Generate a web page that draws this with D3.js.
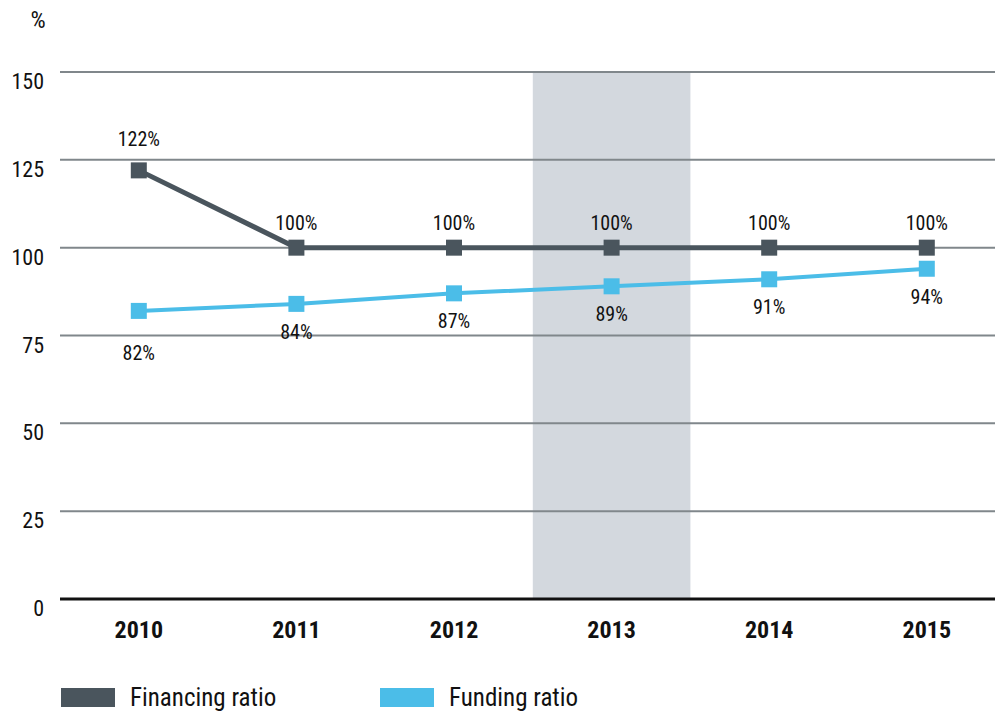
<!DOCTYPE html>
<html>
<head>
<meta charset="utf-8">
<script src="https://cdn.jsdelivr.net/npm/d3@7"></script>
<style>
  body { margin: 0; background: #fff; }
  svg text { font-family: "Liberation Sans Narrow", "Roboto Condensed", "Liberation Sans", Arial, sans-serif; fill: #111; }
</style>
</head>
<body>
<div id="canvas"></div>
<script>
// data
var years = ['2010', '2011', '2012', '2013', '2014', '2015'];
var financing = [122, 100, 100, 100, 100, 100];
var funding = [82, 84, 87, 89, 91, 94];
var yTicks = [0, 25, 50, 75, 100, 125, 150];
var highlightYear = '2013';
var seriesNames = ['Financing ratio', 'Funding ratio'];
var colors = ['#4a555d', '#4bbde8'];

var W = 995, H = 715;
var m = {t:72, r:0, b:116, l:60};

var svg = d3.select('#canvas')
    .append('svg')
    .attr('width', W)
    .attr('height', H);

var scaleX = d3.scaleBand()
    .domain(years)
    .range([m.l, m.l + 6 * 157.6]);

var scaleY = d3.scaleLinear()
    .domain([0, 150])
    .range([H - m.b, m.t]);

// highlighted column
svg.append('rect')
    .attr('x', scaleX(highlightYear))
    .attr('y', scaleY(150))
    .attr('width', scaleX.bandwidth())
    .attr('height', scaleY(0) - scaleY(150))
    .attr('fill', '#d3d8de');

// gridlines
svg.selectAll('.grid')
    .data(yTicks.filter(function(d){ return d > 0; }))
    .enter().append('line')
    .attr('x1', m.l).attr('x2', W)
    .attr('y1', function(d){ return scaleY(d); })
    .attr('y2', function(d){ return scaleY(d); })
    .attr('stroke', '#80878b')
    .attr('stroke-width', 2);

// y labels
svg.selectAll('.ylab')
    .data(yTicks)
    .enter().append('text')
    .attr('x', 44)
    .attr('y', function(d){ return scaleY(d) + 17; })
    .attr('text-anchor', 'end')
    .style('font-size', '22px')
    .text(function(d){ return d; });

svg.append('text')
    .attr('x', 38).attr('y', 28)
    .attr('text-anchor', 'middle')
    .style('font-size', '24px')
    .text('%');

// x axis
var axisX = d3.axisBottom(scaleX).tickSize(0).tickPadding(22);
var gx = svg.append('g')
    .attr('transform', 'translate(0,' + scaleY(0) + ')')
    .call(axisX);
gx.select('.domain').remove();
gx.selectAll('text')
    .style('font-size', '24px')
    .style('font-weight', 'bold')
    .attr('fill', '#111');
svg.append('line')
    .attr('x1', m.l).attr('x2', W)
    .attr('y1', scaleY(0)).attr('y2', scaleY(0))
    .attr('stroke', '#111')
    .attr('stroke-width', 3);

var cx = function(d, i){ return scaleX(years[i]) + scaleX.bandwidth() / 2; };
var line = d3.line()
    .x(function(d, i){ return cx(d, i); })
    .y(function(d){ return scaleY(d); });

[funding, financing].forEach(function(series){
    var col = series === financing ? colors[0] : colors[1];
    svg.append('path')
        .datum(series)
        .attr('d', line)
        .attr('fill', 'none')
        .attr('stroke', col)
        .attr('stroke-width', series === financing ? 5 : 4);
    svg.selectAll(null)
        .data(series)
        .enter().append('rect')
        .attr('x', function(d, i){ return cx(d, i) - 8; })
        .attr('y', function(d){ return scaleY(d) - 8; })
        .attr('width', 16).attr('height', 16)
        .attr('fill', col);
});

// value labels
svg.selectAll('.flab')
    .data(financing)
    .enter().append('text')
    .attr('x', cx)
    .attr('y', function(d, i){ return scaleY(d) - (i === 0 ? 24 : 18); })
    .attr('text-anchor', 'middle')
    .style('font-size', '20px')
    .text(function(d){ return d + '%'; });

svg.selectAll('.fulab')
    .data(funding)
    .enter().append('text')
    .attr('x', cx)
    .attr('y', function(d, i){ return scaleY(d) + (i === 0 ? 49 : 35); })
    .attr('text-anchor', 'middle')
    .style('font-size', '20px')
    .text(function(d){ return d + '%'; });

// legend
var legX = [61, 380];
seriesNames.forEach(function(name, i){
    svg.append('rect')
        .attr('x', legX[i]).attr('y', 688)
        .attr('width', 54).attr('height', 19)
        .attr('fill', colors[i]);
    svg.append('text')
        .attr('x', legX[i] + 69).attr('y', 706)
        .style('font-size', '25px')
        .text(name);
});
</script>
</body>
</html>
